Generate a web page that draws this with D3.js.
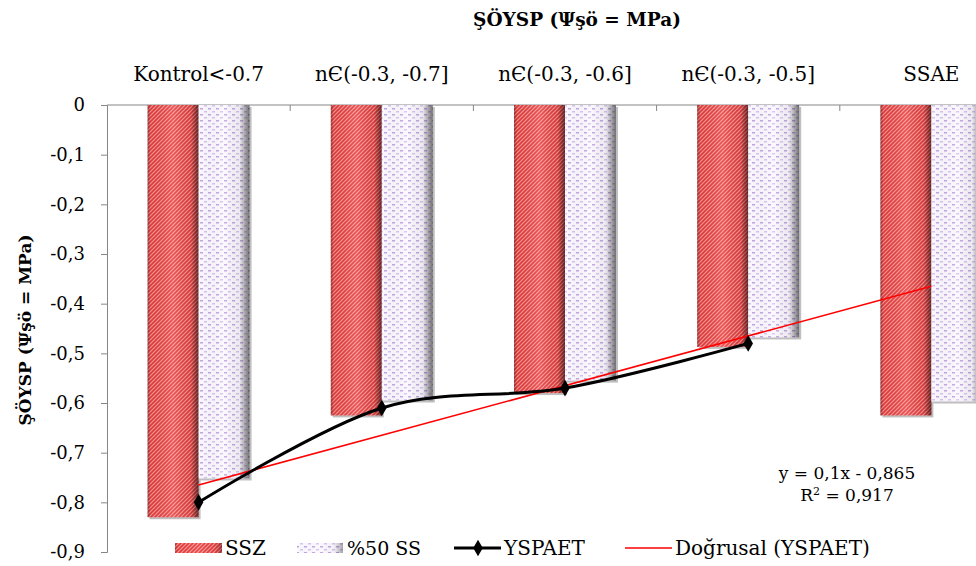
<!DOCTYPE html>
<html><head><meta charset="utf-8">
<script src="https://cdn.jsdelivr.net/npm/d3@7"></script>
<style>
body{margin:0;background:#fff;}
svg{display:block;}
</style></head>
<body>
<svg id="c" width="976" height="566"></svg>
<script>
const categories = ["Kontrol<-0.7", "nЄ(-0.3, -0.7]", "nЄ(-0.3, -0.6]", "nЄ(-0.3, -0.5]", "SSAE"];
const ssz = [-0.83, -0.625, -0.58, -0.487, -0.625];
const ss50 = [-0.752, -0.595, -0.555, -0.468, -0.597];
const yspaet = [-0.80, -0.61, -0.57, -0.48];
const yTicks = [0, -0.1, -0.2, -0.3, -0.4, -0.5, -0.6, -0.7, -0.8, -0.9];
const seriesNames = ["SSZ", "%50 SS", "YSPAET", "Doğrusal (YSPAET)"];
const titleText = "ŞÖYSP (Ψşö = MPa)";
const SERIF = "DejaVu Serif";

const svg = d3.select("#c").attr("font-family", SERIF);
const defs = svg.append("defs");

const p1 = defs.append("pattern").attr("id","pRed").attr("patternUnits","userSpaceOnUse").attr("width",4).attr("height",4);
p1.append("rect").attr("width",4).attr("height",4).attr("fill","#ff9a9a");
p1.append("path").attr("d","M0,4 L4,0 M-1,1 L1,-1 M3,5 L5,3").attr("stroke","#e83c3c").attr("stroke-width",1.6);
const p2 = defs.append("pattern").attr("id","pPur").attr("patternUnits","userSpaceOnUse").attr("width",8).attr("height",6);
p2.append("rect").attr("width",8).attr("height",6).attr("fill","#fbf8ff");
p2.append("rect").attr("x",0).attr("y",0).attr("width",3).attr("height",1.5).attr("fill","#c2a6e4");
p2.append("rect").attr("x",4).attr("y",3).attr("width",3).attr("height",1.5).attr("fill","#d8c6f0");

const g1 = defs.append("linearGradient").attr("id","shadeR").attr("x1",0).attr("x2",1).attr("y1",0).attr("y2",0);
[[0,"#000",0.35],[0.06,"#000",0.05],[0.5,"#fff",0.12],[0.85,"#000",0.08],[1,"#000",0.55]].forEach(s=>g1.append("stop").attr("offset",s[0]).attr("stop-color",s[1]).attr("stop-opacity",s[2]));
const g2 = defs.append("linearGradient").attr("id","shadeP").attr("x1",0).attr("x2",1).attr("y1",0).attr("y2",0);
[[0,"#000",0.0],[0.5,"#fff",0.1],[0.8,"#000",0.06],[1,"#000",0.55]].forEach(s=>g2.append("stop").attr("offset",s[0]).attr("stop-color",s[1]).attr("stop-opacity",s[2]));

const x = d3.scaleBand().domain(categories).range([107, 107 + 5*183.2]).paddingInner(0).paddingOuter(0);
const y = d3.scaleLinear().domain([-0.9, 0]).range([552, 105]);
const barW = 51;
const cx = c => x(c) + x.bandwidth()/2;

svg.append("text").attr("x",577).attr("y",26).attr("text-anchor","middle").attr("font-weight","bold").attr("font-size",18.5).text(titleText);
svg.append("text").attr("transform","translate(31,330) rotate(-90)").attr("text-anchor","middle").attr("font-weight","bold").attr("font-size",17).text("ŞÖYSP (Ψşö = MPa)");

const fmt = v => v === 0 ? "0" : d3.format(".1f")(v).replace(".", ",").replace("−","-");
const yAxis = d3.axisLeft(y).tickValues(yTicks).tickSize(6).tickFormat(fmt);
const ga = svg.append("g").attr("transform","translate(107,0)").call(yAxis);
ga.attr("font-family", SERIF).attr("font-size",18);
ga.select(".domain").attr("stroke","#868686");
ga.selectAll(".tick line").attr("stroke","#868686");
ga.selectAll(".tick text").attr("fill","#000").attr("x",-22);

svg.append("line").attr("x1",107).attr("x2",976).attr("y1",y(0)).attr("y2",y(0)).attr("stroke","#868686");
svg.selectAll("line.ct").data(categories.slice(1)).enter().append("line")
  .attr("x1",d=>x(d)).attr("x2",d=>x(d)).attr("y1",y(0)).attr("y2",y(0)+6).attr("stroke","#868686");
svg.selectAll("text.cat").data(categories).enter().append("text")
  .attr("x",d=>cx(d)).attr("y",81).attr("text-anchor","middle").attr("font-size",20).text(d=>d);

function drawBars(vals, off, fill, shade){
  const g = svg.append("g");
  categories.forEach((c,i)=>{
    const bx = cx(c) + off;
    const by = y(0), h = y(vals[i]) - y(0);
    g.append("rect").attr("x",bx+2).attr("y",by+2).attr("width",barW).attr("height",h).attr("fill","#000").attr("opacity",0.25);
    g.append("rect").attr("x",bx).attr("y",by).attr("width",barW).attr("height",h).attr("fill",fill);
    g.append("rect").attr("x",bx).attr("y",by).attr("width",barW).attr("height",h).attr("fill",shade);
  });
}
drawBars(ssz, -barW, "url(#pRed)", "url(#shadeR)");
drawBars(ss50, 0, "url(#pPur)", "url(#shadeP)");

const n = yspaet.length;
const xs = d3.range(1, n+1);
const mx = d3.mean(xs), my = d3.mean(yspaet);
const slope = d3.sum(xs.map((xv,i)=>(xv-mx)*(yspaet[i]-my))) / d3.sum(xs.map(xv=>(xv-mx)**2));
const icpt = my - slope*mx;
const tx = i => cx(categories[0]) + (i-1)*x.step();
svg.append("line").attr("x1",tx(1)).attr("y1",y(slope*1+icpt)).attr("x2",tx(5)).attr("y2",y(slope*5+icpt))
  .attr("stroke","#ff0000").attr("stroke-width",1.6);

const pts = yspaet.map((v,i)=>[cx(categories[i]), y(v)]);
svg.append("path").attr("d", d3.line().curve(d3.curveCardinal.tension(0))(pts))
  .attr("fill","none").attr("stroke","#000").attr("stroke-width",3);
const diamond = d3.symbol().type(d3.symbolDiamond).size(80);
svg.selectAll("path.mk").data(pts).enter().append("path").attr("transform",d=>`translate(${d[0]},${d[1]})`).attr("d",diamond()).attr("fill","#000");

svg.append("text").attr("x",847).attr("y",479).attr("text-anchor","middle").attr("font-size",17).text("y = 0,1x - 0,865");
const r2 = svg.append("text").attr("x",847).attr("y",501).attr("text-anchor","middle").attr("font-size",17);
r2.append("tspan").text("R");
r2.append("tspan").attr("font-size",11).attr("dy",-6).text("2");
r2.append("tspan").attr("dy",6).text(" = 0,917");

const ly = 548;
const lg = svg.append("g").attr("font-size",20);
lg.append("rect").attr("x",175).attr("y",ly-5).attr("width",47).attr("height",10).attr("fill","url(#pRed)");
lg.append("rect").attr("x",175).attr("y",ly-5).attr("width",47).attr("height",10).attr("fill","url(#shadeR)").attr("opacity",0.6);
lg.append("text").attr("x",225).attr("y",ly+7).text(seriesNames[0]);
lg.append("rect").attr("x",297).attr("y",ly-5).attr("width",46).attr("height",10).attr("fill","url(#pPur)");
lg.append("rect").attr("x",297).attr("y",ly-5).attr("width",46).attr("height",10).attr("fill","url(#shadeP)").attr("opacity",0.6);
lg.append("text").attr("x",347).attr("y",ly+7).attr("font-size",19).text(seriesNames[1]);
lg.append("line").attr("x1",454).attr("x2",501).attr("y1",ly).attr("y2",ly).attr("stroke","#000").attr("stroke-width",3);
lg.append("path").attr("transform",`translate(478,${ly})`).attr("d",diamond()).attr("fill","#000");
lg.append("text").attr("x",504).attr("y",ly+7).text(seriesNames[2]);
lg.append("line").attr("x1",625).attr("x2",672).attr("y1",ly).attr("y2",ly).attr("stroke","#ff0000").attr("stroke-width",1.6);
lg.append("text").attr("x",675).attr("y",ly+7).text(seriesNames[3]);
</script>
</body></html>
